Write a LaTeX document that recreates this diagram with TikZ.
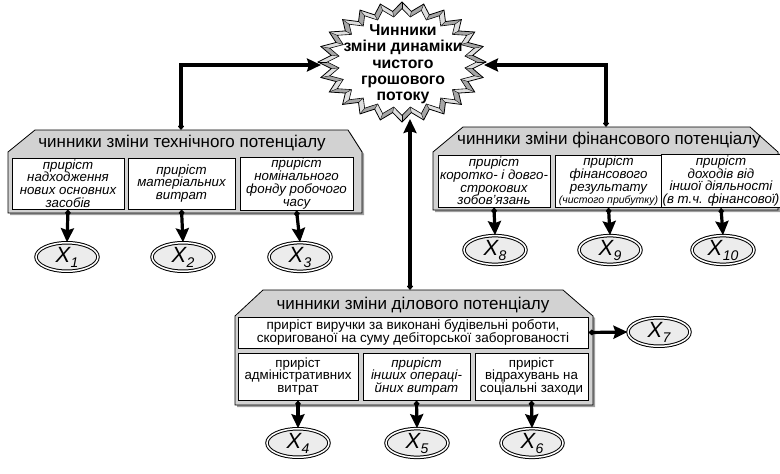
\documentclass[tikz,border=0pt]{standalone}
\usepackage{fontspec}
\setmainfont{Liberation Sans}
\usetikzlibrary{arrows.meta,shapes.geometric}
\newcommand\xlab[1]{{\fontsize{22}{22}\selectfont\itshape X\kern0.5pt\raisebox{-5pt}{\fontsize{14}{14}\selectfont #1}}}
\tikzset{
 panel/.style={draw, line width=0.8pt, fill=gray!35},
 panelshadow/.style={fill=gray!75, draw=none},
 fbox/.style={draw, line width=0.7pt, fill=white, align=center, inner sep=1pt, font=\fontsize{13.3}{12.8}\selectfont\itshape},
 rbox/.style={fbox, font=\fontsize{13.3}{12.8}\selectfont},
 hdr/.style={font=\fontsize{17}{17}\selectfont, inner sep=0pt},
 xell/.style={ellipse, draw, double, double distance=1.5pt, line width=1pt, fill=gray!15, minimum width=62pt, minimum height=28pt, inner sep=0pt},
 conn/.style={line width=3.2pt, {Diamond[length=7pt,width=6pt]}-{Stealth[length=14pt,width=13pt,inset=2pt]}},
}
\begin{document}
\begin{tikzpicture}[x=1pt,y=-1pt]
\useasboundingbox (0,0) rectangle (780,474);
% ---------- starburst ----------
\def\cx{402}\def\cy{62}\def\rx{84}\def\ry{60}
\foreach \i in {0,...,47}{
  \pgfmathsetmacro\a{\i*7.5}
  \pgfmathsetmacro\b{(\i+1)*7.5}
  \pgfmathsetmacro\fa{1-0.15*mod(\i,2)}
  \pgfmathsetmacro\fb{1-0.15*mod(\i+1,2)}
  \pgfmathsetmacro\shd{mod(\i,2)==0 ? 25 : 70}
  \fill[gray!\shd] ({\cx+\rx*\fa*cos(\a)},{\cy+\ry*\fa*sin(\a)}) -- ({\cx+\rx*\fb*cos(\b)},{\cy+\ry*\fb*sin(\b)})
     -- ({\cx+0.89*\rx*\fb*cos(\b)},{\cy+0.89*\ry*\fb*sin(\b)}) -- ({\cx+0.89*\rx*\fa*cos(\a)},{\cy+0.89*\ry*\fa*sin(\a)}) -- cycle;
  \draw[line width=0.4pt] ({\cx+\rx*\fa*cos(\a)},{\cy+\ry*\fa*sin(\a)}) -- ({\cx+0.89*\rx*\fa*cos(\a)},{\cy+0.89*\ry*\fa*sin(\a)});
}
\draw[line width=0.8pt] plot[samples at={0,...,47}] ({\cx+\rx*(1-0.15*mod(\x,2))*cos(\x*7.5)},{\cy+\ry*(1-0.15*mod(\x,2))*sin(\x*7.5)}) -- cycle;
\draw[line width=0.6pt, fill=white] plot[samples at={0,...,47}] ({\cx+0.89*\rx*(1-0.15*mod(\x,2))*cos(\x*7.5)},{\cy+0.89*\ry*(1-0.15*mod(\x,2))*sin(\x*7.5)}) -- cycle;
\node[font=\bfseries\fontsize{15.8}{16.3}\selectfont, align=center, inner sep=0pt] (star) at (403,64.5) {Чинники\\зміни динаміки\\чистого\\грошового\\потоку};
\coordinate (starW) at (321,65);
\coordinate (starE) at (484,65);
\coordinate (starS) at (410,119);
% ---------- technical panel ----------
\fill[panelshadow] (37,132) -- (350,132) -- (364,154) -- (364,215) -- (10,215) -- (10,154) -- cycle;
\draw[panel] (35,130) -- (348,130) -- (362,152) -- (362,213) -- (8,213) -- (8,152) -- cycle;
\coordinate (techtop) at (181,130);
\node[hdr] (th) at (182,143) {чинники зміни технічного потенціалу};
\node[fbox, minimum width=112pt, minimum height=51pt] (t1) at (68,183.5) {приріст\\надходження\\нових основних\\засобів};
\node[fbox, minimum width=107pt, minimum height=51pt] (t2) at (181.5,183.5) {приріст\\матеріальних\\витрат};
\node[fbox, minimum width=113pt, minimum height=51pt] (t3) at (296.5,183.5) {приріст\\номінального\\фонду робочого\\часу};
\node[xell] (x1) at (67,257) {\xlab{1}};
\node[xell] (x2) at (183,257) {\xlab{2}};
\node[xell] (x3) at (300,257) {\xlab{3}};
\draw[conn] (t1.south) -- (x1.north);
\draw[conn] (t2.south) -- (x2.north);
\draw[conn] (t3.south) -- (x3.north);
% ---------- financial panel ----------
\fill[panelshadow] (465,129) -- (752,129) -- (780,154) -- (780,212) -- (435,212) -- (435,154) -- cycle;
\draw[panel] (463,127) -- (750,127) -- (778,152) -- (778,210) -- (433,210) -- (433,152) -- cycle;
\coordinate (fintop) at (606,127);
\node[hdr] (fh) at (609,140) {чинники зміни фінансового потенціалу};
\node[fbox, minimum width=112pt, minimum height=52pt] (f1) at (494,181) {приріст\\коротко- і довго-\\строкових\\зобов’язань};
\node[fbox, minimum width=107pt, minimum height=52pt] (f2) at (608.5,181) {приріст\\фінансового\\результату\\{\fontsize{10.5}{12.8}\selectfont(чистого прибутку)}};
\node[fbox, minimum width=108pt, minimum height=52pt] (f3) at (721,181) {приріст\\доходів від\\іншої діяльності\\(в т.ч. фінансової)};
\node[xell] (x8) at (495,250) {\xlab{8}};
\node[xell] (x9) at (610,250) {\xlab{9}};
\node[xell] (x10) at (723,250) {\xlab{10}};
\draw[conn] (f1.south) -- (x8.north);
\draw[conn] (f2.south) -- (x9.north);
\draw[conn] (f3.south) -- (x10.north);
% ---------- business panel ----------
\fill[panelshadow] (265,292) -- (565,292) -- (595,318) -- (595,407) -- (237,407) -- (237,318) -- cycle;
\draw[panel] (263,290) -- (563,290) -- (593,316) -- (593,405) -- (235,405) -- (235,316) -- cycle;
\coordinate (bustop) at (410,290);
\node[hdr] (bh) at (413,305) {чинники зміни ділового потенціалу};
\node[rbox, minimum width=350pt, minimum height=31pt, font=\fontsize{13.5}{13}\selectfont] (bw) at (413,332.5) {приріст виручки за виконані будівельні роботи,\\скоригованої на суму дебіторської заборгованості};
\node[rbox, minimum width=120pt, minimum height=47pt] (b1) at (298,376.5) {приріст\\адміністративних\\витрат};
\node[fbox, minimum width=107pt, minimum height=47pt] (b2) at (416.5,376.5) {приріст\\інших операці-\\йних витрат};
\node[rbox, minimum width=113pt, minimum height=47pt] (b3) at (531.5,376.5) {приріст\\відрахувань на\\соціальні заходи};
\node[xell] (x4) at (298,443) {\xlab{4}};
\node[xell] (x5) at (417,443) {\xlab{5}};
\node[xell] (x6) at (532,443) {\xlab{6}};
\node[xell] (x7) at (659,332) {\xlab{7}};
\draw[conn] (b1.south) -- (x4.north);
\draw[conn] (b2.south) -- (x5.north);
\draw[conn] (b3.south) -- (x6.north);
\draw[conn] (bw.east) -- (x7.west);
% ---------- links to starburst ----------
\draw[conn] (techtop) |- (starW);
\draw[conn] (fintop) |- (starE);
\draw[conn] (bustop) -- (starS);
\end{tikzpicture}
\end{document}
